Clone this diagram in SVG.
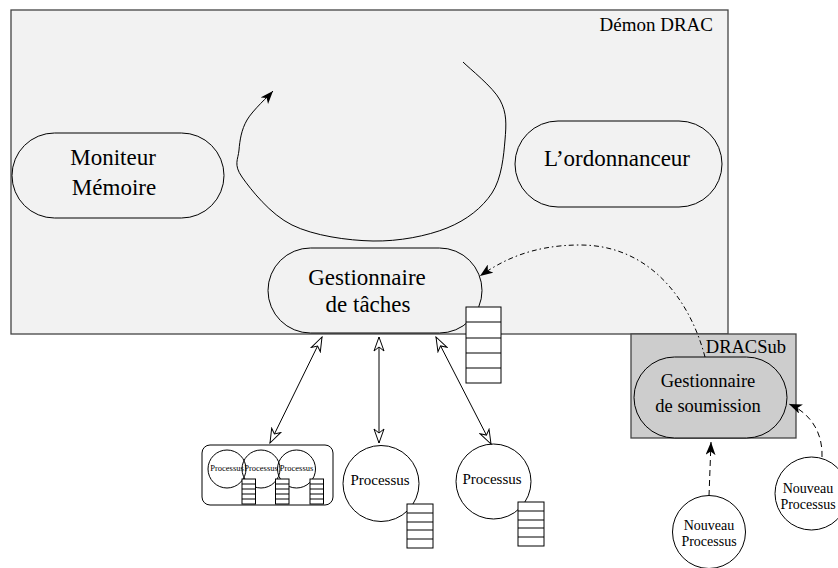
<svg xmlns="http://www.w3.org/2000/svg" width="838" height="568" viewBox="0 0 838 568">
  <style>
    text { font-family: "Liberation Serif", "Times New Roman", serif; fill: #000; }
    .big { font-size: 23px; text-anchor: middle; }
    .mid { font-size: 18.5px; text-anchor: middle; }
    .small { font-size: 14px; text-anchor: middle; }
    .tiny { font-size: 8.5px; text-anchor: middle; }
    .node { fill: none; stroke: #000; stroke-width: 1; }
    .frame { fill: #f2f2f2; stroke: #444; stroke-width: 1.3; }
    .sub { fill: #cdcdcd; stroke: #444; stroke-width: 1.3; }
    .queue rect { fill: #fff; stroke: #000; stroke-width: 1; }
    .queue line { stroke: #000; stroke-width: 1; }
    .link { fill: none; stroke: #000; stroke-width: 1; }
  </style>
  <defs>
    <marker id="open" markerUnits="userSpaceOnUse" markerWidth="16" markerHeight="12" viewBox="-1 -1 16 12" refX="14" refY="5" orient="auto-start-reverse">
      <path d="M0,0 L14,5 L0,10 L4,5 z" fill="#fff" stroke="#000" stroke-width="1"/>
    </marker>
    <marker id="solid" markerUnits="userSpaceOnUse" markerWidth="14" markerHeight="10" viewBox="0 0 14 10" refX="13" refY="5" orient="auto">
      <path d="M0,0 L13,5 L0,10 L3.5,5 z" fill="#000"/>
    </marker>
  </defs>

  <!-- daemon frame -->
  <g id="demon">
    <rect class="frame" x="11" y="10" width="717" height="324"/>
    <text x="713" y="31" style="font-size:19px" text-anchor="end">Démon DRAC</text>
  </g>

  <g id="moniteur">
    <rect class="node" x="12" y="133" width="212" height="85" rx="42.5"/>
    <text class="big" x="113" y="165">Moniteur</text>
    <text class="big" x="114" y="195">Mémoire</text>
  </g>

  <g id="ordonnanceur">
    <rect class="node" x="515" y="121" width="207" height="86" rx="43"/>
    <text class="big" x="617" y="166">L’ordonnanceur</text>
  </g>

  <g id="gestionnaire-taches">
    <rect class="node" x="268" y="248" width="214" height="85" rx="42.5"/>
    <text class="big" x="367" y="285">Gestionnaire</text>
    <text class="big" x="368" y="312">de tâches</text>
  </g>

  <!-- task queue of the manager -->
  <g id="file-taches" class="queue">
    <rect x="466" y="307" width="35" height="76"/>
    <line x1="466" y1="322" x2="501" y2="322"/>
    <line x1="466" y1="338" x2="501" y2="338"/>
    <line x1="466" y1="353" x2="501" y2="353"/>
    <line x1="466" y1="368" x2="501" y2="368"/>
  </g>

  <g id="dracsub">
    <rect class="sub" x="631" y="334" width="165" height="104"/>
    <text x="786" y="353" style="font-size:18.5px" text-anchor="end">DRACSub</text>
  </g>

  <g id="gestionnaire-soumission">
    <rect x="634" y="357" width="153" height="81" rx="40.5" fill="#cdcdcd" stroke="#000" stroke-width="1"/>
    <text class="mid" x="708" y="387">Gestionnaire</text>
    <text class="mid" x="708" y="412">de soumission</text>
  </g>

  <!-- grouped processes -->
  <g id="groupe-processus">
    <rect class="node" x="202" y="445" width="131" height="60" rx="8"/>
    <circle class="node" cx="227" cy="469" r="19"/>
    <circle class="node" cx="261" cy="469" r="19"/>
    <circle class="node" cx="296.5" cy="469" r="19"/>
    <text class="tiny" x="227" y="471">Processus</text>
    <text class="tiny" x="261" y="471">Processus</text>
    <text class="tiny" x="296.5" y="471">Processus</text>
    <g class="queue">
      <rect x="242" y="479" width="13.5" height="25"/>
      <line x1="242" y1="484" x2="255.5" y2="484"/>
      <line x1="242" y1="489" x2="255.5" y2="489"/>
      <line x1="242" y1="494" x2="255.5" y2="494"/>
      <line x1="242" y1="499" x2="255.5" y2="499"/>
      <rect x="275.5" y="479" width="13.5" height="25"/>
      <line x1="275.5" y1="484" x2="289" y2="484"/>
      <line x1="275.5" y1="489" x2="289" y2="489"/>
      <line x1="275.5" y1="494" x2="289" y2="494"/>
      <line x1="275.5" y1="499" x2="289" y2="499"/>
      <rect x="310" y="479" width="13.5" height="25"/>
      <line x1="310" y1="484" x2="323.5" y2="484"/>
      <line x1="310" y1="489" x2="323.5" y2="489"/>
      <line x1="310" y1="494" x2="323.5" y2="494"/>
      <line x1="310" y1="499" x2="323.5" y2="499"/>
    </g>
  </g>

  <g id="processus-1">
    <circle class="node" cx="381" cy="483.5" r="38"/>
    <text class="small" x="380" y="485" style="font-size:15px">Processus</text>
    <g class="queue">
      <rect x="407" y="504" width="26" height="44"/>
      <line x1="407" y1="513" x2="433" y2="513"/>
      <line x1="407" y1="522" x2="433" y2="522"/>
      <line x1="407" y1="530" x2="433" y2="530"/>
      <line x1="407" y1="539" x2="433" y2="539"/>
    </g>
  </g>

  <g id="processus-2">
    <circle class="node" cx="493.5" cy="481.5" r="37.5"/>
    <text class="small" x="492" y="484" style="font-size:15px">Processus</text>
    <g class="queue">
      <rect x="518" y="502" width="26" height="44"/>
      <line x1="518" y1="511" x2="544" y2="511"/>
      <line x1="518" y1="520" x2="544" y2="520"/>
      <line x1="518" y1="528" x2="544" y2="528"/>
      <line x1="518" y1="537" x2="544" y2="537"/>
    </g>
  </g>

  <g id="nouveau-1">
    <circle class="node" cx="709" cy="532" r="36.5"/>
    <text class="small" x="709" y="530">Nouveau</text>
    <text class="small" x="709" y="546">Processus</text>
  </g>

  <g id="nouveau-2">
    <circle class="node" cx="811.5" cy="493.5" r="36.5"/>
    <text class="small" x="808" y="493">Nouveau</text>
    <text class="small" x="808" y="509">Processus</text>
  </g>

  <!-- connectors -->
  <g id="connecteurs">
    <path class="link" marker-end="url(#solid)" d="M463,62 C469.2,68.3 493,87 500,100 C507,113 506.3,124.5 505,140 C503.7,155.5 501.7,178.3 492,193 C482.3,207.7 466.8,220 447,228 C427.2,236 398.8,241.5 373,241 C347.2,240.5 313.8,235.7 292,225 C270.2,214.3 250.8,189.5 242,177 C233.2,164.5 238.2,159.5 239,150 C239.8,140.5 241.3,129.8 247,120 C252.7,110.2 268.7,95.8 273,91"/>
    <line class="link" x1="322" y1="337" x2="270" y2="443" marker-start="url(#open)" marker-end="url(#open)"/>
    <line class="link" x1="379" y1="337" x2="379" y2="443" marker-start="url(#open)" marker-end="url(#open)"/>
    <line class="link" x1="436" y1="337" x2="491" y2="444" marker-start="url(#open)" marker-end="url(#open)"/>
    <path class="link" stroke-dasharray="5 3 1.5 3" marker-end="url(#solid)" d="M705,357 C690,300 650,245 580,245 C530,245 500,262 480,276"/>
    <path class="link" stroke-dasharray="6 4" marker-end="url(#solid)" d="M709,496 L711,442"/>
    <path class="link" stroke-dasharray="6 4" marker-end="url(#solid)" d="M822,457 C823,430 808,412 789,404"/>
  </g>
</svg>
